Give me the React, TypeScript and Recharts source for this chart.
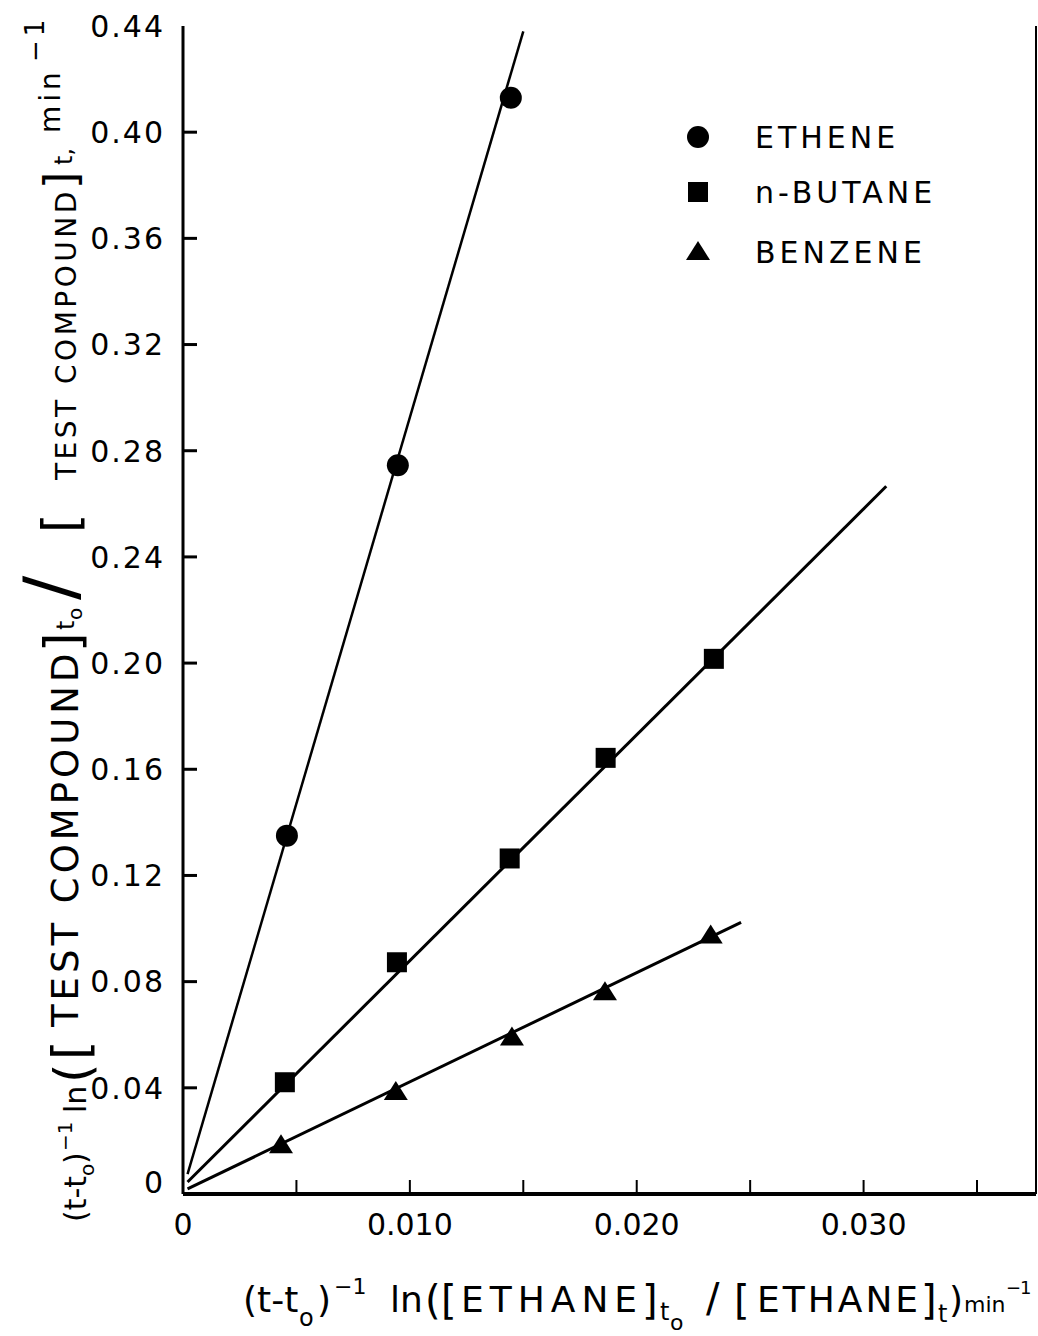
import React from "react";
import { ScatterChart, Scatter, XAxis, YAxis, Legend } from "recharts";

const W = 1038;
const H = 1336;
const FONT = "'DejaVu Sans', sans-serif";

// axis ticks
const xTicks = [0, 0.005, 0.01, 0.015, 0.02, 0.025, 0.03, 0.035];
const xTickLabels = ["0", "", "0.010", "", "0.020", "", "0.030", ""];
const yTicks = [0, 0.04, 0.08, 0.12, 0.16, 0.2, 0.24, 0.28, 0.32, 0.36, 0.4, 0.44];
const yTickLabels = ["0", "0.04", "0.08", "0.12", "0.16", "0.20", "0.24", "0.28", "0.32", "0.36", "0.40", "0.44"];
const X_MAX = 0.0376;
const Y_MAX = 0.44;

// measured points
const etheneData = [
  { x: 0.00458, y: 0.135 },
  { x: 0.00947, y: 0.2745 },
  { x: 0.01445, y: 0.413 },
];
const butaneData = [
  { x: 0.00449, y: 0.0421 },
  { x: 0.00943, y: 0.0873 },
  { x: 0.0144, y: 0.1264 },
  { x: 0.01863, y: 0.1643 },
  { x: 0.0234, y: 0.2016 },
];
const benzeneData = [
  { x: 0.00432, y: 0.0184 },
  { x: 0.00938, y: 0.0384 },
  { x: 0.0145, y: 0.059 },
  { x: 0.0186, y: 0.076 },
  { x: 0.02326, y: 0.0974 },
];

// fitted lines (end points)
const etheneFit = [
  { x: 0.0002, y: 0.0075 },
  { x: 0.015, y: 0.438 },
];
const butaneFit = [
  { x: 0.0002, y: 0.0045 },
  { x: 0.031, y: 0.2666 },
];
const benzeneFit = [
  { x: 0.0002, y: 0.0019 },
  { x: 0.0246, y: 0.1023 },
];

const seriesNames = ["ETHENE", "n-BUTANE", "BENZENE"];

const Dot = (p: any) => <circle cx={p.cx} cy={p.cy} r={11} fill="#000" />;
const Sq = (p: any) => <rect x={p.cx - 10} y={p.cy - 10} width={20} height={20} fill="#000" />;
const Tri = (p: any) => (
  <polygon points={`${p.cx},${p.cy - 11} ${p.cx + 12},${p.cy + 8} ${p.cx - 12},${p.cy + 8}`} fill="#000" />
);
const NoDot = () => <g />;

const markers = [Dot, Sq, Tri];

function LeftTick(props: any) {
  const { x, y, payload, index } = props;
  const v = payload.value;
  return (
    <g>
      {v > 0 && v < Y_MAX && <line x1={x} x2={x + 14} y1={y} y2={y} stroke="#000" strokeWidth={3} />}
      <text x={x - 18} y={v === 0 ? y - 12 : y} dy="0.36em" textAnchor="end" fontFamily={FONT} fontSize={30} letterSpacing={2} fill="#000">
        {yTickLabels[index]}
      </text>
    </g>
  );
}

function RightTick(props: any) {
  const { x, y, payload } = props;
  const v = payload.value;
  if (v <= 0 || v >= Y_MAX) return <g />;
  return <line x1={x} x2={x - 14} y1={y} y2={y} stroke="#000" strokeWidth={3} />;
}

function BottomTick(props: any) {
  const { x, y, payload, index } = props;
  const v = payload.value;
  return (
    <g>
      {v > 0 && <line x1={x} x2={x} y1={y} y2={y - 14} stroke="#000" strokeWidth={2} />}
      <text x={x} y={y + 41} textAnchor="middle" fontFamily={FONT} fontSize={30} fill="#000">
        {xTickLabels[index]}
      </text>
    </g>
  );
}

function TopTick(props: any) {
  const { x, y, payload } = props;
  if (payload.value <= 0) return <g />;
  return <line x1={x} x2={x} y1={y} y2={y + 13} stroke="#000" strokeWidth={2} />;
}

function XTitle() {
  return (
    <text fontFamily={FONT} fill="#000">
      <tspan x={243} y={1312} fontSize={36}>(t-t</tspan>
      <tspan x={299} y={1326} fontSize={24}>o</tspan>
      <tspan x={317} y={1312} fontSize={36}>)</tspan>
      <tspan x={334} y={1294} fontSize={22}>−1</tspan>
      <tspan x={390} y={1312} fontSize={36}>ln</tspan>
      <tspan x={425} y={1314} fontSize={40}>(</tspan>
      <tspan x={441} y={1314} fontSize={40}>[</tspan>
      <tspan x={461} y={1312} fontSize={36} letterSpacing={6}>ETHANE</tspan>
      <tspan x={642} y={1314} fontSize={40}>]</tspan>
      <tspan x={660} y={1320} fontSize={24}>t</tspan>
      <tspan x={670} y={1330} fontSize={22}>o</tspan>
      <tspan x={706} y={1312} fontSize={40}>/</tspan>
      <tspan x={734} y={1314} fontSize={40}>[</tspan>
      <tspan x={757} y={1312} fontSize={36} letterSpacing={3}>ETHANE</tspan>
      <tspan x={921} y={1314} fontSize={40}>]</tspan>
      <tspan x={938} y={1322} fontSize={24}>t</tspan>
      <tspan x={949} y={1312} fontSize={36}>)</tspan>
      <tspan x={964} y={1312} fontSize={22}>min</tspan>
      <tspan x={1006} y={1294} fontSize={18} letterSpacing={-1}>−1</tspan>
    </text>
  );
}

function YTitle() {
  return (
    <text fontFamily={FONT} fill="#000" transform="rotate(-90)">
      <tspan x={-1222} y={86} fontSize={30}>(t-t</tspan>
      <tspan x={-1176} y={94} fontSize={20}>o</tspan>
      <tspan x={-1164} y={86} fontSize={30}>)</tspan>
      <tspan x={-1151} y={72} fontSize={20}>−1</tspan>
      <tspan x={-1113} y={86} fontSize={30}>ln</tspan>
      <tspan x={-1083} y={90} fontSize={50}>(</tspan>
      <tspan x={-1060} y={88} fontSize={50}>[</tspan>
      <tspan x={-1027} y={78} fontSize={37} letterSpacing={4}>TEST COMPOUND</tspan>
      <tspan x={-652} y={80} fontSize={50}>]</tspan>
      <tspan x={-630} y={74} fontSize={24}>t</tspan>
      <tspan x={-620} y={82} fontSize={20}>o</tspan>
      <tspan x={-600} y={74} fontSize={72}>/</tspan>
      <tspan x={-533} y={78} fontSize={50}>[</tspan>
      <tspan x={-480} y={76} fontSize={28} letterSpacing={3.5}>TEST COMPOUND</tspan>
      <tspan x={-189} y={76} fontSize={44}>]</tspan>
      <tspan x={-165} y={72} fontSize={24}>t,</tspan>
      <tspan x={-133} y={60} fontSize={28} letterSpacing={4}>min</tspan>
      <tspan x={-62} y={44} fontSize={26} letterSpacing={4}>−1</tspan>
    </text>
  );
}

function LegendBox() {
  const rows = [27, 82, 142];
  return (
    <svg width={320} height={170}>
      {seriesNames.map((name, i) => {
        const M = markers[i];
        return (
          <g key={name}>
            <M cx={18} cy={rows[i]} />
            <text x={75} y={rows[i] + 11} fontFamily={FONT} fontSize={30} letterSpacing={4} fill="#000">
              {name}
            </text>
          </g>
        );
      })}
    </svg>
  );
}

export default function App() {
  return (
    <div style={{ position: "absolute", left: 0, top: 0, width: W, height: H, background: "#fff" }}>
      <ScatterChart width={W} height={H} margin={{ top: 26, right: 0, bottom: 0, left: 0 }}>
        <XAxis
          dataKey="x"
          type="number"
          domain={[0, X_MAX]}
          ticks={xTicks}
          interval={0}
          height={142}
          tickSize={0}
          tickMargin={0}
          tickLine={false}
          tick={<BottomTick />}
          axisLine={{ stroke: "#000", strokeWidth: 4 }}
          label={<XTitle />}
          allowDataOverflow
        />
        <XAxis
          xAxisId="top"
          orientation="top"
          type="number"
          domain={[0, X_MAX]}
          ticks={xTicks}
          interval={0}
          height={0}
          tickSize={0}
          tickMargin={0}
          tickLine={false}
          tick={<TopTick />}
          axisLine={{ stroke: "#000", strokeWidth: 3 }}
        />
        <YAxis
          dataKey="y"
          type="number"
          domain={[0, Y_MAX]}
          ticks={yTicks}
          interval={0}
          width={183}
          tickSize={0}
          tickMargin={0}
          tickLine={false}
          tick={<LeftTick />}
          axisLine={{ stroke: "#000", strokeWidth: 3 }}
          label={<YTitle />}
          allowDataOverflow
        />
        <YAxis
          yAxisId="right"
          orientation="right"
          type="number"
          domain={[0, Y_MAX]}
          ticks={yTicks}
          interval={0}
          width={2}
          tickSize={0}
          tickMargin={0}
          tickLine={false}
          tick={<RightTick />}
          axisLine={{ stroke: "#000", strokeWidth: 2 }}
        />
        <Legend
          layout="horizontal"
          verticalAlign="middle"
          align="center"
          content={() => <LegendBox />}
          wrapperStyle={{ position: "absolute", left: 680, top: 110, width: 320, height: 170 }}
        />
        <Scatter name="ethene fit" data={etheneFit} line={{ stroke: "#000", strokeWidth: 2.5 }} shape={NoDot} legendType="none" isAnimationActive={false} />
        <Scatter name="butane fit" data={butaneFit} line={{ stroke: "#000", strokeWidth: 3 }} shape={NoDot} legendType="none" isAnimationActive={false} />
        <Scatter name="benzene fit" data={benzeneFit} line={{ stroke: "#000", strokeWidth: 3 }} shape={NoDot} legendType="none" isAnimationActive={false} />
        <Scatter name={seriesNames[0]} data={etheneData} shape={Dot} isAnimationActive={false} />
        <Scatter name={seriesNames[1]} data={butaneData} shape={Sq} isAnimationActive={false} />
        <Scatter name={seriesNames[2]} data={benzeneData} shape={Tri} isAnimationActive={false} />
      </ScatterChart>
    </div>
  );
}
